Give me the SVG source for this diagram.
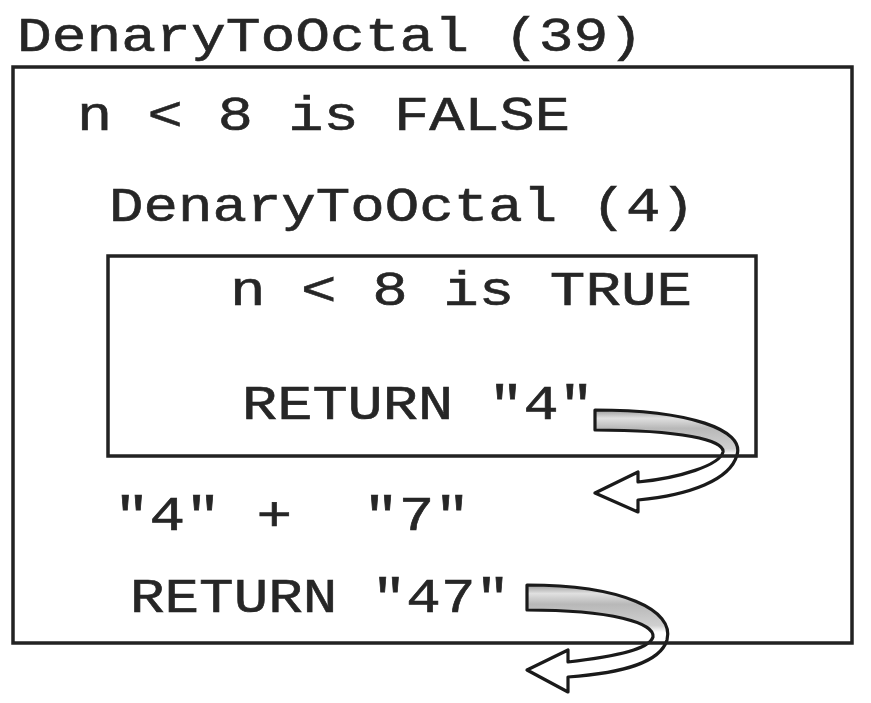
<svg xmlns="http://www.w3.org/2000/svg" width="871" height="703" viewBox="0 0 871 703">
<style>
.t{font-family:"Liberation Mono","Courier New",monospace;font-size:48px;fill:#262626;stroke:#262626;stroke-width:0.6;white-space:pre;}
.box{fill:none;stroke:#222;stroke-width:3.5;}
.arr{stroke:#1a1a1a;stroke-width:3.2;stroke-linejoin:round;fill:url(#g);}
</style>
<defs>
<linearGradient id="g" x1="0" y1="0" x2="0" y2="1">
<stop offset="0" stop-color="#9a9a9a"/>
<stop offset="0.08" stop-color="#e0e0e0"/>
<stop offset="0.18" stop-color="#b8b8b8"/>
<stop offset="0.38" stop-color="#d0d0d0"/>
<stop offset="0.44" stop-color="#ffffff"/>
<stop offset="1" stop-color="#ffffff"/>
</linearGradient>
</defs>
<rect width="871" height="703" fill="#fff"/>
<g id="connectors">
<path class="arr" transform="translate(595,410)" d="M0,0 C95,0 150,20 142,45 C135,70 95,85 43,90 L43,102 L0,83 L43,62 L43,72 C85,68 125,55 128,42 C130,30 85,20 0,20 Z"/>
<path class="arr" transform="translate(527,585)" d="M0,0 C95,0 148,25 140,55 C133,78 95,88 41,92 L41,107 L0,85 L41,65 L41,77 C85,72 122,65 126,52 C128,38 85,25 0,25 Z"/>
</g>
<g id="outer">
<text class="t" x="17" y="51" textLength="626" lengthAdjust="spacingAndGlyphs">DenaryToOctal (39)</text>
<rect class="box" x="13" y="67" width="839" height="576"/>
<text class="t" x="77" y="130" textLength="493" lengthAdjust="spacingAndGlyphs">n &lt; 8 is FALSE</text>
<text class="t" x="114" y="530" textLength="356" lengthAdjust="spacingAndGlyphs">"4" +  "7"</text>
<text class="t" x="130" y="612" textLength="380" lengthAdjust="spacingAndGlyphs">RETURN "47"</text>
</g>
<g id="inner">
<text class="t" x="109" y="221" textLength="586" lengthAdjust="spacingAndGlyphs">DenaryToOctal (4)</text>
<rect class="box" x="108" y="256" width="648" height="200"/>
<text class="t" x="230" y="305" textLength="462" lengthAdjust="spacingAndGlyphs">n &lt; 8 is TRUE</text>
<text class="t" x="242" y="419" textLength="352" lengthAdjust="spacingAndGlyphs">RETURN "4"</text>
</g>
</svg>
